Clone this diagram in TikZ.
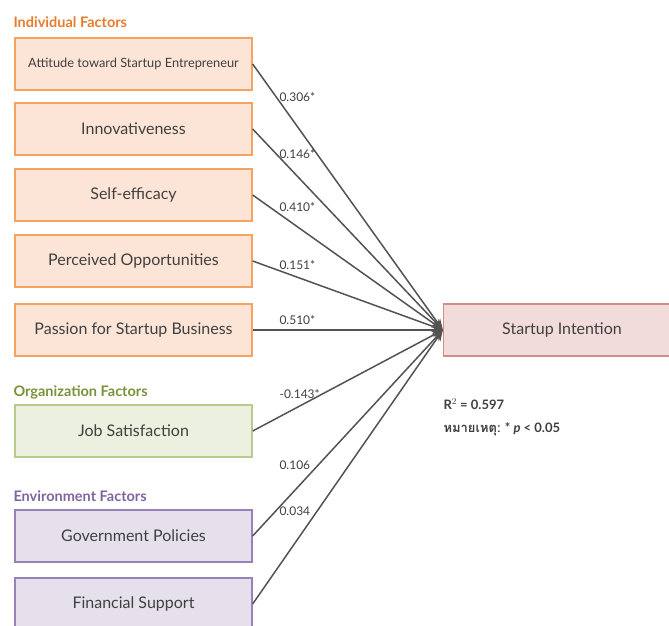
\documentclass[tikz,border=0pt]{standalone}
\usepackage{fontspec}
\setmainfont{Lato}
\newfontfamily\thaifont[Script=Thai]{Loma}
\usetikzlibrary{arrows.meta,positioning}
\definecolor{indfill}{HTML}{FCE4D6}
\definecolor{inddraw}{HTML}{F4A460}
\definecolor{indtext}{HTML}{E97C2C}
\definecolor{orgfill}{HTML}{EBF1DE}
\definecolor{orgdraw}{HTML}{B5CC8A}
\definecolor{orgtext}{HTML}{77933C}
\definecolor{envfill}{HTML}{E5E0EC}
\definecolor{envdraw}{HTML}{9684B8}
\definecolor{envtext}{HTML}{8064A2}
\definecolor{depfill}{HTML}{F2DCDB}
\definecolor{depdraw}{HTML}{D08C8A}
\definecolor{ink}{HTML}{404040}
\tikzset{
	factor/.style={draw, line width=1.3pt, minimum width=237pt, minimum height=52pt, inner sep=0pt, text=ink, font=\fontsize{16}{18}\selectfont},
	ind/.style={factor, fill=indfill, draw=inddraw},
	org/.style={factor, fill=orgfill, draw=orgdraw},
	env/.style={factor, fill=envfill, draw=envdraw},
	group/.style={anchor=west, font=\bfseries\fontsize{14.5}{16}\selectfont},
	coef/.style={anchor=west, text=ink, font=\fontsize{12}{14}\selectfont},
	path/.style={draw=ink!90, line width=1.5pt, -{Stealth[length=11pt,width=9pt]}},
}
\begin{document}
\begin{tikzpicture}[x=1pt, y=-1pt]
	\useasboundingbox[fill=white] (0, 0) rectangle (669, 625);
	% group headings
	\node[group, text=indtext] (indh) at (10, 22) {Individual Factors};
	\node[group, text=orgtext] (orgh) at (10, 392) {Organization Factors};
	\node[group, text=envtext] (envh) at (10, 496) {Environment Factors};
	% factor boxes
	\node[ind, font=\fontsize{12.8}{14}\selectfont] (att) at (133.5, 64) {Attitude toward Startup Entrepreneur};
	\node[ind] (inn) at (133.5, 129) {Innovativeness};
	\node[ind] (slf) at (133.5, 195) {Self-efficacy};
	\node[ind] (opp) at (133.5, 261) {Perceived Opportunities};
	\node[ind] (pas) at (133.5, 330) {Passion for Startup Business};
	\node[org] (job) at (133.5, 431) {Job Satisfaction};
	\node[env] (gov) at (133.5, 536) {Government Policies};
	\node[env] (fin) at (133.5, 604) {Financial Support};
	\node[factor, fill=depfill, draw=depdraw] (si) at (562, 330) {Startup Intention};
	% paths
	\foreach \n in {att, inn, slf, opp, pas, job, gov, fin}
		\draw[path] (\n.east) -- (si.west);
	% coefficients
	\node[coef] (c1) at (276, 97) {0.306*};
	\node[coef] (c2) at (276, 154) {0.146*};
	\node[coef] (c3) at (276, 207) {0.410*};
	\node[coef] (c4) at (276, 265) {0.151*};
	\node[coef] (c5) at (276, 320) {0.510*};
	\node[coef] (c6) at (276, 394) {-0.143*};
	\node[coef] (c7) at (276, 465) {0.106};
	\node[coef] (c8) at (276, 511) {0.034};
	% note
	\node[anchor=west, text=ink, font=\bfseries\fontsize{13}{15}\selectfont] (r2) at (440, 404) {R$^2$ = 0.597};
	\node[anchor=west, text=ink, font=\bfseries\fontsize{13}{15}\selectfont] (note) at (440, 429) {{\thaifont หมายเหตุ:} * \textit{p} < 0.05};
\end{tikzpicture}
\end{document}
